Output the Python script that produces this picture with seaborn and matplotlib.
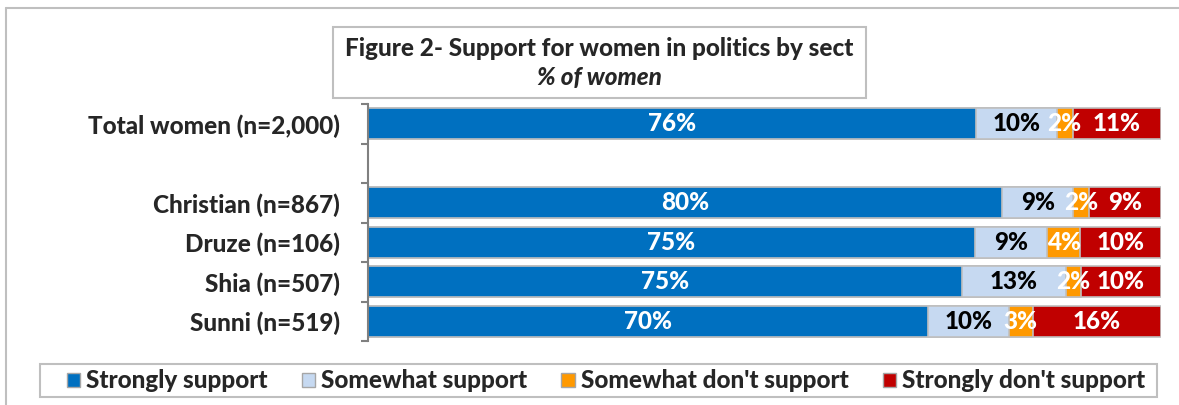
import numpy as np
import pandas as pd
import matplotlib
matplotlib.use("Agg")
import matplotlib.pyplot as plt
import seaborn as sns
from matplotlib.patches import Patch, Rectangle
from matplotlib.lines import Line2D

# ---------------- data ----------------
groups = ["Total women (n=2,000)", "", "Christian (n=867)", "Druze (n=106)",
          "Shia (n=507)", "Sunni (n=519)"]
series = ["Strongly support", "Somewhat support",
          "Somewhat don't support", "Strongly don't support"]
strongly_support = [76, None, 80, 75, 75, 70]
somewhat_support = [10, None, 9, 9, 13, 10]
somewhat_dont = [2, None, 2, 4, 2, 3]
strongly_dont = [11, None, 9, 10, 10, 16]

colors = ["#0070C0", "#C6D9F1", "#FF9900", "#C00000"]
label_colors = ["white", "black", "white", "white"]

# ---------------- prepare ----------------
rows = []
for g, a, b, c, d in zip(groups, strongly_support, somewhat_support,
                         somewhat_dont, strongly_dont):
    if a is None:
        continue
    vals = np.array([a, b, c, d], dtype=float)
    share = vals / vals.sum() * 100  # 100% stacked
    cum = np.cumsum(share)
    for s, v, sh, cu in zip(series, vals, share, cum):
        rows.append({"group": g, "series": s, "value": v,
                     "share": sh, "cum": cu})
df = pd.DataFrame(rows)

# ---------------- plot ----------------
sns.set_style("white")
plt.rcParams["font.family"] = ["Lato", "DejaVu Sans"]
FS = 17.5
W = "black"

fig = plt.figure(figsize=(11.79, 4.05), dpi=100)
ax = fig.add_axes([367.7 / 1179, 1 - 341 / 405, 793 / 1179, 237 / 405])

# stacked bars: draw cumulative totals from the longest to the shortest
for s, col in reversed(list(zip(series, colors))):
    sub = df[df["series"] == s]
    sns.barplot(data=sub, x="cum", y="group", order=groups, color=col,
                width=0.78, edgecolor="#BFBFBF", linewidth=1.2,
                saturation=1, ax=ax)

# value labels
pos = {g: i for i, g in enumerate(groups)}
for _, r in df.iterrows():
    i = series.index(r["series"])
    ax.text(r["cum"] - r["share"] / 2, pos[r["group"]], f"{r['value']:.0f}%",
            ha="center", va="center", color=label_colors[i],
            fontsize=FS, fontweight=W)

ax.set_xlim(0, 100)
ax.set_ylim(len(groups) - 0.5, -0.5)
ax.set_xlabel("")
ax.set_ylabel("")
ax.set_xticks([])
ax.set_yticks(range(len(groups)))
ax.set_yticklabels(groups, fontsize=FS, fontweight=W)
ax.set_yticks(np.arange(-0.5, len(groups)), minor=True)
ax.tick_params(axis="y", which="major", length=0, pad=20)
ax.tick_params(axis="y", which="minor", length=5, width=1.5,
               color="#808080", left=True)
for side in ["top", "right", "bottom"]:
    ax.spines[side].set_visible(False)
ax.spines["left"].set_color("#808080")
ax.spines["left"].set_linewidth(1.5)

# title box
fig.patches.append(Rectangle((333 / 1179, 1 - 98 / 405), 533 / 1179, 71 / 405,
                             transform=fig.transFigure, fill=False,
                             edgecolor="#BFBFBF", linewidth=1.5))
fig.text(599 / 1179, 1 - 49 / 405,
         "Figure 2- Support for women in politics by sect",
         ha="center", va="center", fontsize=FS, fontweight=W)
fig.text(599 / 1179, 1 - 78 / 405, "% of women", ha="center", va="center",
         fontsize=FS, fontweight=W, style="italic")

# outer border
fig.lines.append(Line2D([6 / 1179, 1], [1 - 8 / 405, 1 - 8 / 405],
                        transform=fig.transFigure, color="#BFBFBF", lw=1.5))
fig.lines.append(Line2D([6 / 1179, 6 / 1179], [0, 1 - 8 / 405],
                        transform=fig.transFigure, color="#BFBFBF", lw=1.5))

# legend
fig.patches.append(Rectangle((40 / 1179, 1 - 397 / 405), 1117 / 1179, 33 / 405,
                             transform=fig.transFigure, fill=False,
                             edgecolor="#BFBFBF", linewidth=1.5))
handles = [Patch(facecolor=c, edgecolor="#A6A6A6", linewidth=1) for c in colors]
fig.legend(handles, series, loc="center", ncol=4,
           bbox_to_anchor=(606 / 1179, 1 - 381 / 405),
           frameon=False, prop={"size": FS, "weight": W},
           handlelength=0.55, handleheight=0.55, handletextpad=0.25,
           columnspacing=1.4, borderaxespad=0, borderpad=0)

fig.savefig("out.png", dpi=100)
